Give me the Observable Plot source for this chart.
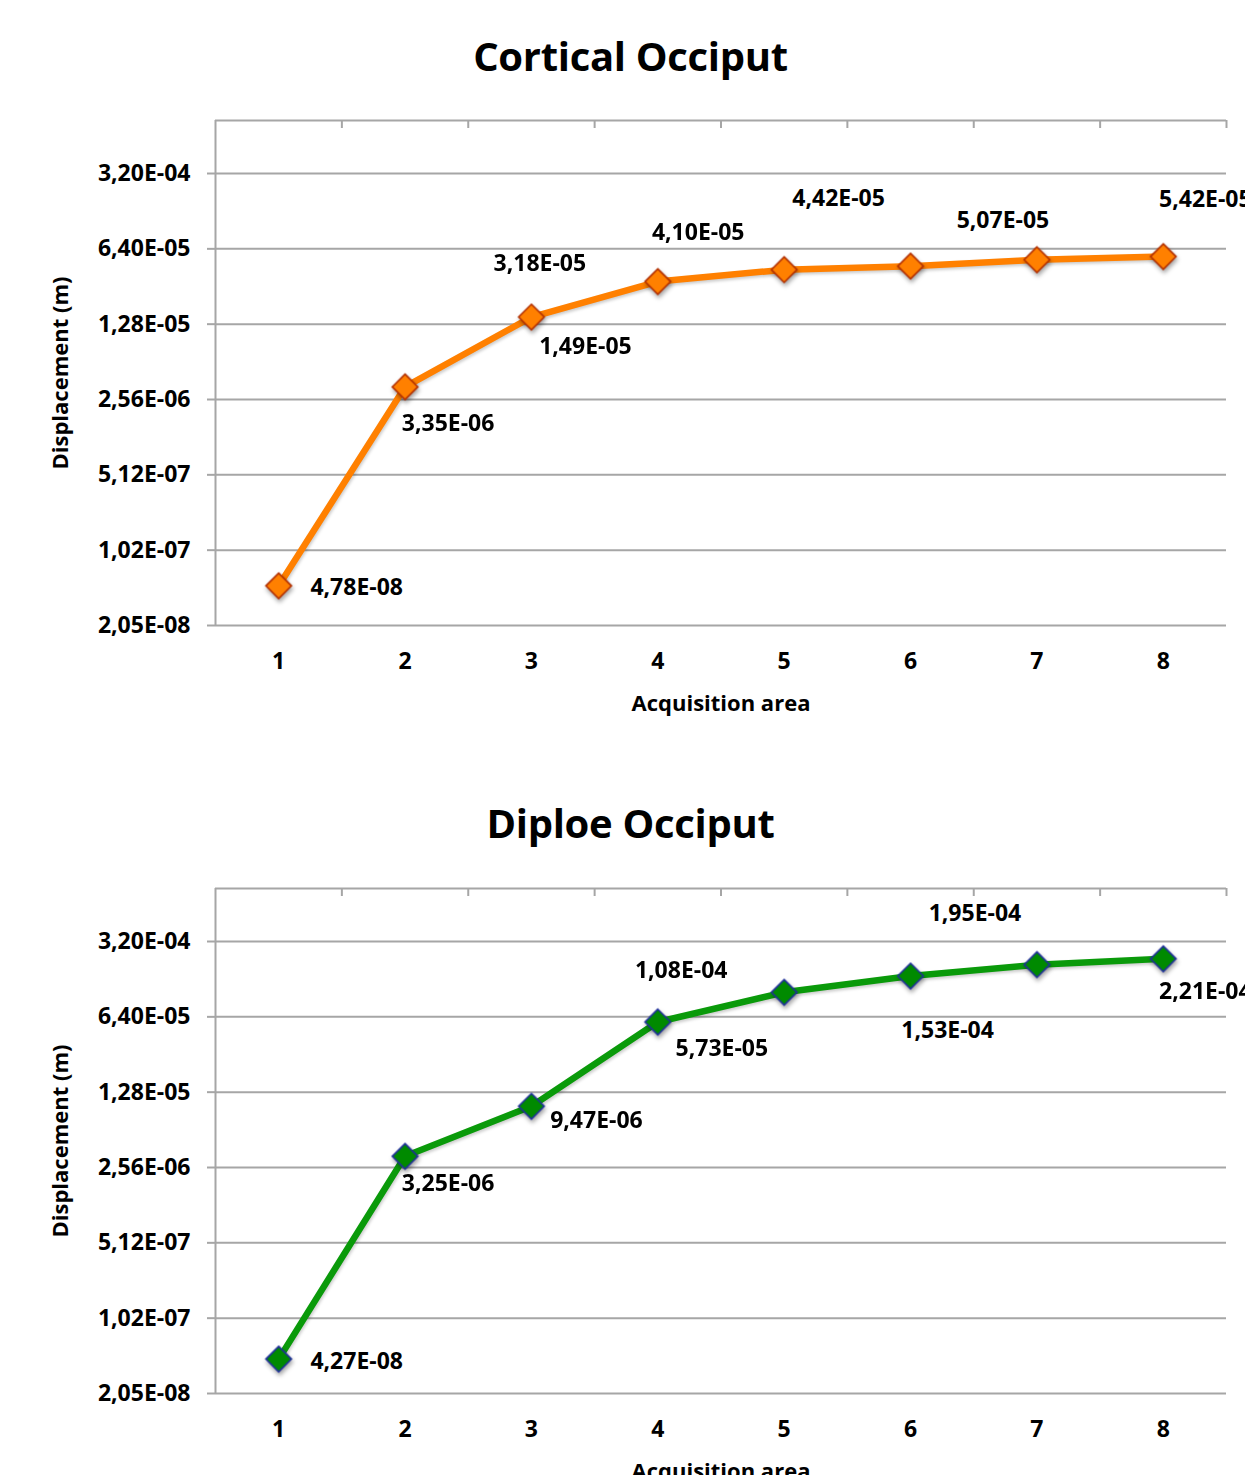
<!DOCTYPE html>
<html>
<head>
<meta charset="utf-8">
<script src="https://cdn.jsdelivr.net/npm/d3@7"></script>
<script src="https://cdn.jsdelivr.net/npm/@observablehq/plot@0.6"></script>
<style>
  html, body { margin: 0; padding: 0; background: #fff; }
  #wrap { position: relative; width: 1245px; height: 1475px; overflow: hidden; font-family: "Open Sans", Lato, sans-serif; }
  .title { position: absolute; left: 0; width: 1245px; text-align: center; font-weight: bold; font-size: 40px; line-height: 1; color: #000; transform: translateX(8px); letter-spacing: -0.3px; }
  .chart { position: absolute; left: 0; }
</style>
</head>
<body>
<div id="wrap"></div>
<script>
// ---- data ----
const areas = [1, 2, 3, 4, 5, 6, 7, 8];
const xTickLabels = ["1", "2", "3", "4", "5", "6", "7", "8"];
const corticalValues = [4.78e-8, 3.35e-6, 1.49e-5, 3.18e-5, 4.10e-5, 4.42e-5, 5.07e-5, 5.42e-5];
const diploeValues = [4.27e-8, 3.25e-6, 9.47e-6, 5.73e-5, 1.08e-4, 1.53e-4, 1.95e-4, 2.21e-4];
const yTickValues = [2.048e-8, 1.024e-7, 5.12e-7, 2.56e-6, 1.28e-5, 6.4e-5, 3.2e-4];
const yTickLabels = ["2,05E-08", "1,02E-07", "5,12E-07", "2,56E-06", "1,28E-05", "6,40E-05", "3,20E-04"];
const titles = ["Cortical Occiput", "Diploe Occiput"];
const xLabel = "Acquisition area";
const yLabel = "Displacement (m)";
const yMax = 9.93e-4;
const categoryBounds = [1.5, 2.5, 3.5, 4.5, 5.5, 6.5, 7.5, 8.5];

// label offsets (pixels) for data labels — styling only
const corticalLabelOffsets = [[78, 2], [43, 37], [54, 30], [-118, -18], [-86, -37], [-72, -68], [-34, -39], [42, -57]];
const diploeLabelOffsets = [[78, 3], [43, 27], [65, 14], [64, 27], [-103, -22], [37, 55], [-62, -51], [42, 33]];

function fmt(v) {
  const [m, e] = v.toExponential(2).split("e");
  const ei = +e;
  return m.replace(".", ",") + "E" + (ei < 0 ? "-" : "+") + String(Math.abs(ei)).padStart(2, "0");
}

const NUMFONT = 23;
const LABFONT = 22;

function makeChart(values, lineColor, fillColor, markerStroke, offsets) {
  const data = areas.map((a, i) => ({area: a, value: values[i]}));
  const gridColor = "#a6a6a6";
  const marks = [
    Plot.gridY(yTickValues, {stroke: gridColor, strokeOpacity: 1, strokeWidth: 2}),
    Plot.ruleY([yMax], {stroke: gridColor, strokeWidth: 2}),
    Plot.ruleX([0.5], {stroke: gridColor, strokeWidth: 2}),
    Plot.tickX(categoryBounds, {x: d => d, stroke: gridColor, strokeWidth: 2, insetBottom: 497}),
    Plot.tickY(yTickValues, {y: d => d, stroke: gridColor, strokeWidth: 2, dx: -8, insetRight: 1003}),
    Plot.text(yTickValues, {
      y: d => d, text: (d, i) => yTickLabels[i], frameAnchor: "left", textAnchor: "end",
      dx: -25, fontSize: NUMFONT, fontWeight: "bold", fill: "#000"
    }),
    Plot.text(areas, {
      x: d => d, text: (d, i) => xTickLabels[i], frameAnchor: "bottom", lineAnchor: "middle",
      dy: 36, fontSize: NUMFONT, fontWeight: "bold", fill: "#000"
    }),
    Plot.text([xLabel], {frameAnchor: "bottom", lineAnchor: "middle", dy: 78, fontSize: LABFONT, fontWeight: "bold", fill: "#000"}),
    Plot.text([yLabel], {frameAnchor: "left", textAnchor: "middle", lineAnchor: "middle", dx: -155, rotate: -90, fontSize: LABFONT, fontWeight: "bold", fill: "#000"}),
    Plot.line(data, {x: "area", y: "value", stroke: lineColor, strokeWidth: 6.5}),
    Plot.dot(data, {x: "area", y: "value", symbol: "diamond2", r: 11.5, fill: fillColor, stroke: markerStroke, strokeWidth: 1.6})
  ];
  data.forEach((d, i) => {
    marks.push(Plot.text([d], {
      x: "area", y: "value", text: dd => fmt(dd.value), lineAnchor: "middle",
      dx: offsets[i][0], dy: offsets[i][1], fontSize: NUMFONT, fontWeight: "bold", fill: "#000"
    }));
  });
  const svg = Plot.plot({
    width: 1245,
    height: 620,
    marginTop: 10,
    marginBottom: 105,
    marginLeft: 215,
    marginRight: 19,
    style: {fontFamily: "'Open Sans', Lato, sans-serif", fontWeight: "bold", color: "#000", background: "transparent", overflow: "visible"},
    x: {domain: [0.5, 8.5], axis: null},
    y: {type: "log", base: 5, domain: [yTickValues[0], yMax], axis: null},
    marks
  });
  d3.select(svg).selectAll('g[aria-label="dot"]').style("filter", "drop-shadow(1px 3px 2px rgba(0,0,0,0.35))");
  d3.select(svg).selectAll('g[aria-label="line"]').style("filter", "drop-shadow(1px 2px 1.5px rgba(0,0,0,0.2))");
  return svg;
}

const wrap = document.getElementById("wrap");

const t1 = document.createElement("div");
t1.className = "title"; t1.textContent = titles[0]; t1.style.top = "36px";
wrap.appendChild(t1);
const c1 = makeChart(corticalValues, "#ff8000", "#ff8000", "#b33000", corticalLabelOffsets);
c1.classList.add("chart"); c1.style.top = "110px";
wrap.appendChild(c1);

const t2 = document.createElement("div");
t2.className = "title"; t2.textContent = titles[1]; t2.style.top = "803px";
wrap.appendChild(t2);
const c2 = makeChart(diploeValues, "#0a9a0a", "#008a00", "#1f2f9a", diploeLabelOffsets);
c2.classList.add("chart"); c2.style.top = "878px";
wrap.appendChild(c2);
</script>
</body>
</html>
